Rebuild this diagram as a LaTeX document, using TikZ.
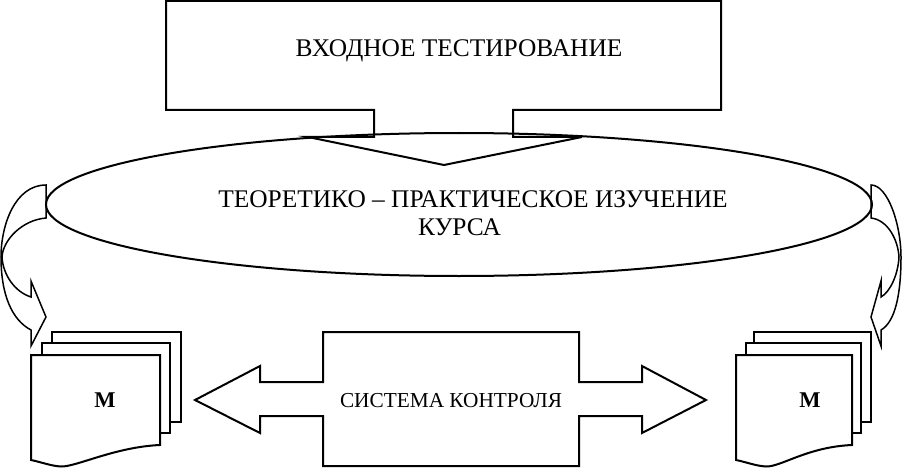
\documentclass[tikz,border=0pt]{standalone}
\usepackage{fontspec}
\setmainfont{Liberation Serif}
\usetikzlibrary{positioning, shapes.geometric}

\begin{document}
\begin{tikzpicture}[
  x=1pt, y=-1pt,
  line/.style={draw=black, line width=2pt, line join=miter},
  thinline/.style={draw=black, line width=1.5pt, line join=miter},
  sheet/.style={line, fill=white},
  lbl/.style={font=\fontsize{25.4}{30}\selectfont, inner sep=0pt, anchor=base},
  lblsmall/.style={font=\fontsize{21.3}{26}\selectfont, inner sep=0pt, anchor=base},
  lblbold/.style={font=\fontsize{22.5}{28}\selectfont\bfseries, inner sep=0pt, anchor=base}
]
\useasboundingbox (0,0) rectangle (902,468);

% entry testing callout
\draw[line] (166,1) -- (721,1) -- (721,110) -- (513,110) -- (513,137) -- (582,137)
  -- (444,165) -- (308,137) -- (374,137) -- (374,110) -- (166,110) -- cycle;
\node[lbl] (entry) at (459,57) {ВХОДНОЕ ТЕСТИРОВАНИЕ};

% course ellipse
\node[line, ellipse, minimum width=826pt, minimum height=143pt, inner sep=0pt] (course) at (459,204.5) {};
\node[lbl] (courseA) at (473,207) {ТЕОРЕТИКО – ПРАКТИЧЕСКОЕ ИЗУЧЕНИЕ};
\node[lbl] (courseB) at (459.5,235) {КУРСА};

% side arrows
\draw[thinline] (46,185) .. controls (15,185) and (1,225) .. (1,257)
  .. controls (1,295) and (12,320) .. (31,330) -- (31,346) -- (46,317) -- (31,281) -- (31,297)
  .. controls (15,292) and (3,275) .. (2,257) .. controls (3,240) and (22,220) .. (46,218) -- cycle;
\draw[thinline] (871,185) .. controls (888,185) and (901,225) .. (901,257)
  .. controls (901,295) and (895,322) .. (881,330) -- (881,346) -- (871,317) -- (881,281) -- (881,297)
  .. controls (890,292) and (898,275) .. (899,257) .. controls (898,240) and (888,220) .. (871,218) -- cycle;

% control system
\draw[line] (195,400) -- (260,366) -- (260,382) -- (323,382) -- (323,332) -- (579,332) -- (579,382)
  -- (642,382) -- (642,366) -- (706,400) -- (642,433) -- (642,416) -- (579,416) -- (579,466)
  -- (323,466) -- (323,416) -- (260,416) -- (260,433) -- cycle;
\node[lblsmall] (control) at (451,407) {СИСТЕМА КОНТРОЛЯ};

% module stacks
\foreach \xa/\xb/\xc/\xd/\xe/\xf in {31/160/42/170/52/181, 736/852/746/861/754/871}{
  \draw[sheet] (\xe,332) -- (\xf,332) -- (\xf,422) -- (\xe,422) -- cycle;
  \draw[sheet] (\xc,343) -- (\xd,343) -- (\xd,433) -- (\xc,433) -- cycle;
  \draw[sheet] (\xa,355) -- (\xb,355) -- (\xb,445)
    .. controls (\xb-45,447) and (\xa+45,467) .. (\xa+30,466.5)
    .. controls (\xa+20,466) and (\xa+10,462) .. (\xa,460) -- cycle;
}
\node[lblbold] (moduleL) at (105,407) {М};
\node[lblbold] (moduleR) at (810,407) {М};
\end{tikzpicture}
\end{document}
